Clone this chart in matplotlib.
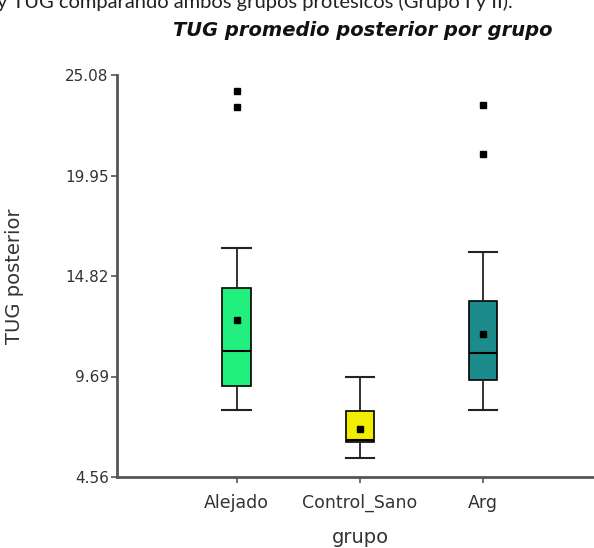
import matplotlib
matplotlib.use("Agg")
import matplotlib.pyplot as plt

groups = ["Alejado", "Control_Sano", "Arg"]
whisker_low = [7.96, 5.51, 7.96]
q1 = [9.23, 6.35, 9.49]
median = [11.01, 6.45, 10.87]
q3 = [14.19, 7.93, 13.55]
whisker_high = [16.26, 9.65, 16.05]
means = [12.57, 7.03, 11.86]
outliers = [[24.27, 23.45], [], [23.57, 21.03]]
colors = ["#22F07E", "#F2EE00", "#1B8B8C"]
yticks = [4.56, 9.69, 14.82, 19.95, 25.08]

plt.rcParams['font.family'] = ['DejaVu Sans']

fig = plt.figure(figsize=(5.94, 5.48), dpi=100)
ax = fig.add_axes([117/594, 1-477/548, 1-117/594+0.01, (477-75)/548])

stats = []
for i, g in enumerate(groups):
    stats.append(dict(label=g, whislo=whisker_low[i], q1=q1[i], med=median[i],
                      q3=q3[i], whishi=whisker_high[i], mean=means[i],
                      fliers=outliers[i]))

bp = ax.bxp(stats, positions=[1, 2, 3], widths=0.23, patch_artist=True,
            showmeans=True, showfliers=True, capwidths=0.23,
            boxprops=dict(edgecolor="black", linewidth=1.2),
            medianprops=dict(color="black", linewidth=1.5),
            whiskerprops=dict(color="#222222", linewidth=1.3),
            capprops=dict(color="#222222", linewidth=1.5),
            meanprops=dict(marker="s", markerfacecolor="black", markeredgecolor="black", markersize=5),
            flierprops=dict(marker="s", markerfacecolor="black", markeredgecolor="black", markersize=5))
for patch, c in zip(bp['boxes'], colors):
    patch.set_facecolor(c)

ax.set_xlim(0.03, 3.95)
ax.set_ylim(4.56, 25.08)
ax.set_yticks(yticks)
ax.set_yticklabels([f"{v:.2f}" for v in yticks])
ax.set_xticks([1, 2, 3])
ax.set_xticklabels(groups)
ax.spines['top'].set_visible(False)
ax.spines['right'].set_visible(False)
for s in ['left', 'bottom']:
    ax.spines[s].set_color("#555555")
    ax.spines[s].set_linewidth(2)
ax.tick_params(axis='both', colors="#555555", labelcolor="#333333", length=4, width=1.2)
ax.tick_params(axis='y', labelsize=11, pad=2)
ax.tick_params(axis='x', labelsize=12.5, pad=8)
ax.set_ylabel("TUG posterior", fontsize=14, color="#333333")
ax.set_xlabel("grupo", fontsize=14, color="#333333")
ax.yaxis.set_label_coords(-0.193, 0.5)
ax.xaxis.set_label_coords(0.505, -0.128)

fig.text(363/594, 0.945, "TUG promedio posterior por grupo", ha="center", va="center",
         fontsize=14, fontweight="bold", fontstyle="italic", color="#111111")
fig.text(-0.005, 0.996, "y TUG comparando ambos grupos protésicos (Grupo I y II).", ha="left", va="center",
         fontsize=14.5, color="#222222", family=["Lato", "DejaVu Sans"])

fig.savefig("out.png", dpi=100)
